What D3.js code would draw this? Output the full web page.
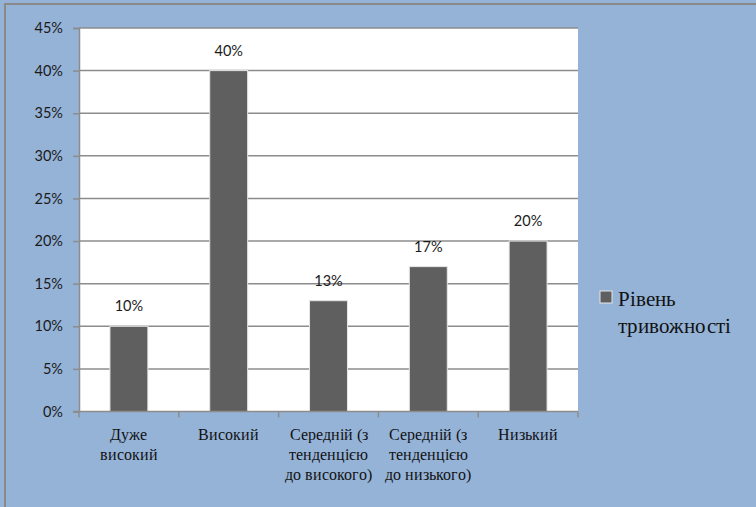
<!DOCTYPE html>
<html>
<head>
<meta charset="utf-8">
<script src="https://cdn.jsdelivr.net/npm/d3@7"></script>
<style>
  @font-face { font-family: "ChartSerif"; src: local("Liberation Serif"), local("LiberationSerif"), local("Liberation Serif Regular"), local("LiberationSerif-Regular"); }
</style>
</head>
<body style="margin:0;background:#95b3d7">
<svg id="chart" width="756" height="507"></svg>
<script>
// Anxiety levels and their shares
const categories = [
  ["Дуже", "високий"],
  ["Високий"],
  ["Середній (з", "тенденцією", "до високого)"],
  ["Середній (з", "тенденцією", "до низького)"],
  ["Низький"]
];
const values = [0.10, 0.40, 0.13, 0.17, 0.20];
const yTicks = [0, 0.05, 0.10, 0.15, 0.20, 0.25, 0.30, 0.35, 0.40, 0.45];
const seriesName = ["Рівень", "тривожності"];

const SERIF = '"ChartSerif", "Liberation Serif", "Times New Roman", Tinos';
const SANS = '"Lato"';

const svg = d3.select("#chart").style("display", "block");
const W = 756, H = 507;
const plot = { left: 79, right: 578, top: 28, bottom: 411.5 };

// outer chart frame (top and left edges visible)
svg.append("rect").attr("width", W).attr("height", H).attr("fill", "#95b3d7");
svg.append("line").attr("x1", 4).attr("x2", W).attr("y1", 4).attr("y2", 4)
  .attr("stroke", "#8a8a8a").attr("stroke-width", 2);
svg.append("line").attr("x1", 5).attr("x2", 5).attr("y1", 4).attr("y2", H)
  .attr("stroke", "#8a8a8a").attr("stroke-width", 2);

const x = d3.scaleBand().domain(d3.range(categories.length))
  .range([plot.left, plot.right]).padding(0);
const y = d3.scaleLinear().domain([0, 0.45]).range([plot.bottom, plot.top]);

// plot area background
svg.append("rect")
  .attr("x", plot.left).attr("y", plot.top)
  .attr("width", plot.right - plot.left).attr("height", plot.bottom - plot.top)
  .attr("fill", "#ffffff");

// horizontal gridlines
svg.append("g").selectAll("line").data(yTicks.filter(d => d > 0)).join("line")
  .attr("x1", plot.left).attr("x2", plot.right)
  .attr("y1", d => y(d)).attr("y2", d => y(d))
  .attr("stroke", "#8c8c8c").attr("stroke-width", 1.5);

// y axis
const yAxis = d3.axisLeft(y).tickValues(yTicks)
  .tickFormat(d => Math.round(d * 100) + "%").tickSize(6).tickPadding(10);
const gy = svg.append("g").attr("transform", `translate(${plot.left},0)`).call(yAxis);
gy.select(".domain").attr("stroke", "#8c8c8c").attr("stroke-width", 1.5);
gy.selectAll(".tick line").attr("stroke", "#8c8c8c").attr("stroke-width", 1.5);
gy.selectAll(".tick text")
  .style("font-family", SANS).style("font-size", "14.5px").attr("fill", "#1a1a1a");

// bars
const barW = x.bandwidth() * 0.38;
svg.append("g").selectAll("rect").data(values).join("rect")
  .attr("x", (d, i) => x(i) + (x.bandwidth() - barW) / 2)
  .attr("y", d => y(d))
  .attr("width", barW)
  .attr("height", d => y(0) - y(d))
  .attr("fill", "#5f5f5f")
  .attr("stroke", "#e6e6e6").attr("stroke-width", 1);

// value labels
svg.append("g").selectAll("text").data(values).join("text")
  .attr("x", (d, i) => x(i) + x.bandwidth() / 2)
  .attr("y", d => y(d) - 15)
  .attr("text-anchor", "middle")
  .style("font-family", SANS).style("font-size", "14.5px").attr("fill", "#1a1a1a")
  .text(d => Math.round(d * 100) + "%");

// x axis line and category boundary ticks
svg.append("line").attr("x1", plot.left - 6).attr("x2", plot.right)
  .attr("y1", plot.bottom).attr("y2", plot.bottom)
  .attr("stroke", "#8c8c8c").attr("stroke-width", 1.5);
const bounds = d3.range(categories.length + 1).map(i => plot.left + i * x.step());
svg.append("g").selectAll("line").data(bounds).join("line")
  .attr("x1", d => d).attr("x2", d => d)
  .attr("y1", plot.bottom).attr("y2", plot.bottom + 6)
  .attr("stroke", "#8c8c8c").attr("stroke-width", 1.5);

// category labels, one text element per line
const catLines = categories.flatMap((lines, i) => lines.map((t, j) => ({ t, i, j })));
svg.append("g").selectAll("text").data(catLines).join("text")
  .attr("x", d => x(d.i) + x.bandwidth() / 2)
  .attr("y", d => 440 + d.j * 20)
  .attr("text-anchor", "middle")
  .style("font-family", SERIF).style("font-size", "16px").attr("fill", "#111")
  .text(d => d.t);

// legend
svg.append("rect").attr("x", 600).attr("y", 291).attr("width", 12).attr("height", 12)
  .attr("fill", "#5f5f5f").attr("stroke", "#e6e6e6").attr("stroke-width", 1);
svg.append("g").selectAll("text").data(seriesName).join("text")
  .attr("x", 618).attr("y", (d, j) => 306 + j * 27)
  .style("font-family", SERIF).style("font-size", "21px").attr("fill", "#111")
  .text(d => d);
</script>
</body>
</html>
